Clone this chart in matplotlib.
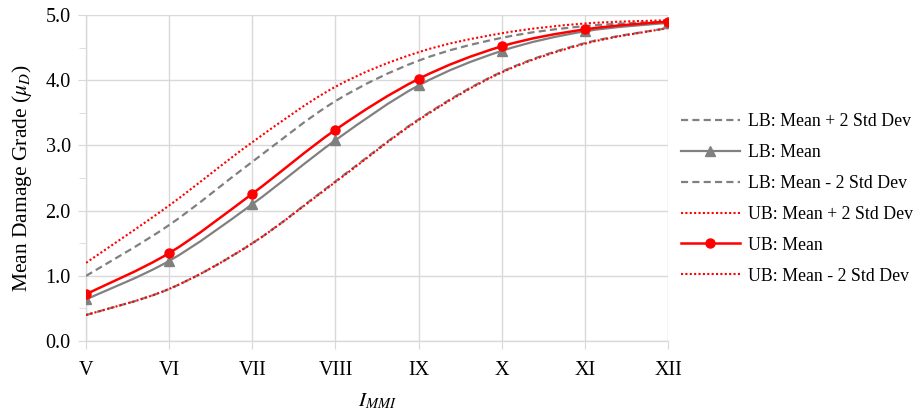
import numpy as np
import matplotlib.pyplot as plt
from matplotlib.path import Path
from matplotlib.patches import PathPatch
from matplotlib.lines import Line2D

plt.rcParams['font.family'] = ['Liberation Serif', 'DejaVu Serif']
plt.rcParams['mathtext.fontset'] = 'stix'

mmi = ["V", "VI", "VII", "VIII", "IX", "X", "XI", "XII"]
lb_plus = [1.00, 1.78, 2.75, 3.68, 4.30, 4.65, 4.83, 4.90]
lb_mean = [0.64, 1.23, 2.10, 3.08, 3.92, 4.45, 4.75, 4.88]
lb_minus = [0.40, 0.80, 1.50, 2.45, 3.40, 4.13, 4.57, 4.80]
ub_plus = [1.20, 2.08, 3.05, 3.90, 4.43, 4.72, 4.87, 4.92]
ub_mean = [0.72, 1.35, 2.26, 3.24, 4.02, 4.52, 4.78, 4.90]
ub_minus = [0.40, 0.80, 1.50, 2.44, 3.39, 4.12, 4.56, 4.80]

GRAY = "#808080"
RED = "#ff0000"


def smooth_path(x, y):
    # Excel-like smoothed line: cubic Bezier segments through the points
    x = np.asarray(x, float)
    y = np.asarray(y, float)
    n = len(x)
    verts = [(x[0], y[0])]
    codes = [Path.MOVETO]
    for i in range(n - 1):
        p0 = np.array([x[max(i - 1, 0)], y[max(i - 1, 0)]])
        p1 = np.array([x[i], y[i]])
        p2 = np.array([x[i + 1], y[i + 1]])
        p3 = np.array([x[min(i + 2, n - 1)], y[min(i + 2, n - 1)]])
        c1 = p1 + (p2 - p0) / 6
        c2 = p2 - (p3 - p1) / 6
        verts += [tuple(c1), tuple(c2), tuple(p2)]
        codes += [Path.CURVE4] * 3
    return Path(verts, codes)


fig = plt.figure(figsize=(9.21, 4.17), dpi=100)
ax = fig.add_axes([0.0934, 0.182, 0.632, 0.782])
x = np.arange(len(mmi))

dash = (0, (3.2, 1.9))
dot = (0, (1, 1.1))
series = [
    (lb_plus, GRAY, dash, 1.6, None, "LB: Mean + 2 Std Dev"),
    (lb_mean, GRAY, "-", 1.6, "^", "LB: Mean"),
    (lb_minus, GRAY, dash, 1.6, None, "LB: Mean - 2 Std Dev"),
    (ub_plus, RED, dot, 1.5, None, "UB: Mean + 2 Std Dev"),
    (ub_mean, RED, "-", 1.8, "o", "UB: Mean"),
    (ub_minus, RED, dot, 1.5, None, "UB: Mean - 2 Std Dev"),
]

handles = []
for vals, col, ls, lw, mk, lab in series:
    ax.add_patch(PathPatch(smooth_path(x, vals), fill=False, edgecolor=col,
                           linestyle=ls, linewidth=lw, zorder=3))
    if mk:
        ax.plot(x, vals, linestyle="none", marker=mk, color=col,
                markersize=6.5, zorder=4)
    handles.append(Line2D([], [], color=col, linestyle=ls, linewidth=lw,
                          marker=mk, markersize=6.5))

ax.set_xlim(0, len(mmi) - 1)
ax.set_ylim(0, 5)
ax.set_xticks(x)
ax.set_xticklabels(mmi)
ax.set_yticks(np.arange(0, 5.1, 1.0))
ax.set_yticklabels(["%.1f" % v for v in np.arange(0, 5.1, 1.0)])
ax.set_yticks(np.arange(0.5, 5, 1.0), minor=True)
ax.grid(True, color="#d9d9d9", linewidth=1)
ax.set_axisbelow(True)
for s in ["top", "right"]:
    ax.spines[s].set_visible(False)
for s in ["left", "bottom"]:
    ax.spines[s].set_color("#d9d9d9")
    ax.spines[s].set_linewidth(1)
ax.tick_params(axis="both", which="both", color="#d9d9d9", labelsize=14.5,
               direction="out")
ax.tick_params(axis="x", length=6, pad=8)
ax.tick_params(axis="y", which="major", length=6, pad=5)
ax.tick_params(axis="y", which="minor", length=5)

ax.set_xlabel(r"$I_{MMI}$", fontsize=15, labelpad=9)
ax.set_ylabel(r"Mean Damage Grade ($\mu_D$)", fontsize=15.5, labelpad=8)

fig.legend(handles=handles, labels=[s[5] for s in series],
           loc="center left", bbox_to_anchor=(0.722, 0.523), frameon=False,
           fontsize=12.8, handlelength=3.3, labelspacing=0.78,
           handletextpad=0.45)

fig.savefig("out.png", dpi=100)
